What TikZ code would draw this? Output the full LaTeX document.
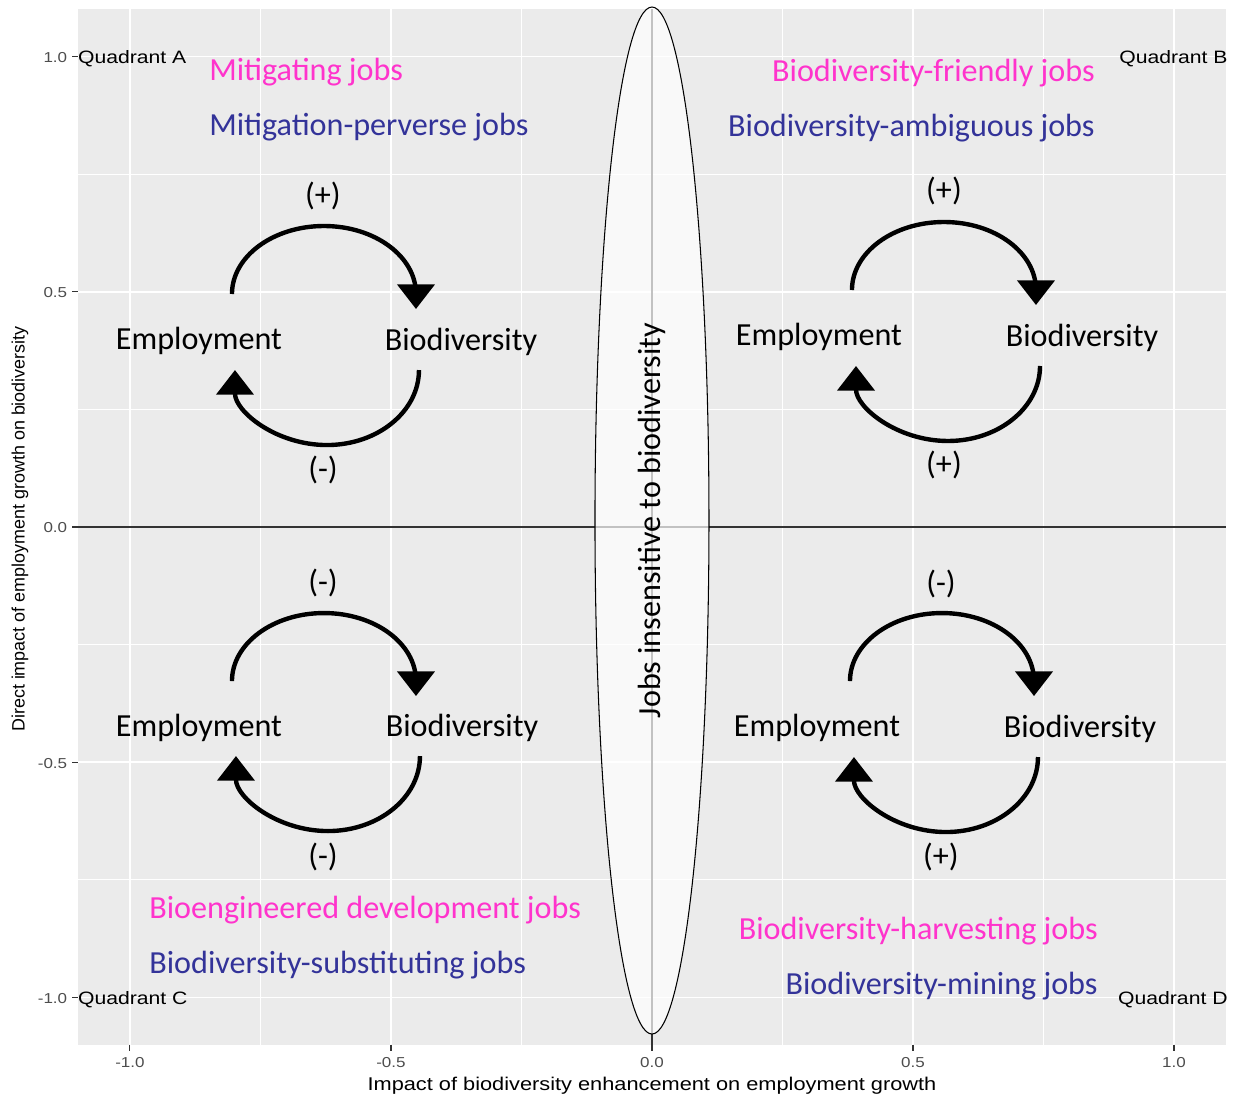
\documentclass[tikz,border=0pt]{standalone}
\usepackage{fontspec}
\setmainfont{Carlito}
\newfontfamily\plotfont{Liberation Sans}
\usetikzlibrary{arrows.meta,shapes.geometric,positioning}
\definecolor{panelgrey}{HTML}{EBEBEB}
\definecolor{tickgrey}{HTML}{4D4D4D}
\definecolor{jobpink}{HTML}{FF33CC}
\definecolor{jobblue}{HTML}{333399}
\begin{document}
\begin{tikzpicture}[x=10.44cm,y=9.41cm,
  lab/.style={font=\fontsize{18.3}{20}\selectfont,inner sep=0pt,yshift=-0.04cm},
  pinkjob/.style={lab,text=jobpink},
  bluejob/.style={lab,text=jobblue},
  quadlab/.style={font=\plotfont\fontsize{10.2}{12}\selectfont,inner sep=0pt,xscale=1.18,yshift=-0.04cm},
  ticklab/.style={font=\plotfont\fontsize{8.2}{10}\selectfont,text=tickgrey,inner sep=0pt,xscale=1.18},
  cyc/.style={line width=2.5pt,-{Triangle[length=14pt,width=21pt]}},
  major/.style={white,line width=1pt},
  minor/.style={white,line width=0.5pt}]
\useasboundingbox (-1.249,-1.203) rectangle (1.1207,1.1201);
% panel and grid lines
\fill[panelgrey] (-1.1,-1.1) rectangle (1.1,1.1);
\foreach \v in {-0.75,-0.25,0.25,0.75} {
  \draw[minor] (\v,-1.1) -- (\v,1.1);
  \draw[minor] (-1.1,\v) -- (1.1,\v);
}
\foreach \v in {-1,-0.5,0,0.5,1} {
  \draw[major] (\v,-1.1) -- (\v,1.1);
  \draw[major] (-1.1,\v) -- (1.1,\v);
}
% the ticks and their labels
\foreach \v/\t [count=\i] in {-1/-1.0,-0.5/-0.5,0/0.0,0.5/0.5,1/1.0} {
  \draw[black!80,line width=0.6pt] (\v,-1.1) -- ++(0cm,-0.12cm) node[ticklab,below=0.12cm] (xt\i) {\t};
  \draw[black!80,line width=0.6pt] (-1.1,\v) -- ++(-0.12cm,0cm) node[ticklab,left=0.08cm,yshift=-0.02cm] (yt\i) {\t};
}
\node[quadlab,font=\plotfont\fontsize{10.5}{12}\selectfont] (xtitle) at (0,-1.183) {Impact of biodiversity enhancement on employment growth};
\node[quadlab,xscale=1/1.18,rotate=90,yshift=0.04cm] (ytitle) at (-1.2069,0) {Direct impact of employment growth on biodiversity};
% zero lines
\draw[black!80,line width=0.6pt] (-1.1,0) -- (1.1,0);
\draw[black!80,line width=0.6pt] (0,-1.1) -- (0,1.1);
% jobs insensitive to biodiversity
\node[ellipse,draw=black,line width=0.6pt,fill=white,fill opacity=0.7,text opacity=1,
  rotate=90,minimum width=20.54cm,minimum height=2.28cm,lab,yshift=0.04cm] (insens) at (0,0.0138) {Jobs insensitive to biodiversity};
% quadrant names
\node[quadlab,anchor=west] (qA) at (-1.1,1) {Quadrant A};
\node[quadlab,anchor=east] (qB) at (1.1034,1) {Quadrant B};
\node[quadlab,anchor=west] (qC) at (-1.1,-1) {Quadrant C};
\node[quadlab,anchor=east] (qD) at (1.1034,-1) {Quadrant D};
% quadrant A
\node[pinkjob,anchor=west] (mitig) at (-0.8487,0.9713) {Mitigating jobs};
\node[bluejob,anchor=west] (perverse) at (-0.8487,0.8544) {Mitigation-perverse jobs};
\node[lab] (signA1) at (-0.6303,0.7078) {(+)};
\node[lab] (empA) at (-0.8678,0.3996) {Employment};
\node[lab] (bioA) at (-0.3659,0.3974) {Biodiversity};
\node[lab] (signA2) at (-0.6303,0.1254) {(-)};
% quadrant B
\node[pinkjob,anchor=east] (friendly) at (0.8487,0.9692) {Biodiversity-friendly jobs};
\node[bluejob,anchor=east] (ambig) at (0.8487,0.8523) {Biodiversity-ambiguous jobs};
\node[lab] (signB1) at (0.5594,0.7184) {(+)};
\node[lab] (empB) at (0.3199,0.4081) {Employment};
\node[lab] (bioB) at (0.8238,0.4060) {Biodiversity};
\node[lab] (signB2) at (0.5594,0.1360) {(+)};
% quadrant C
\node[lab] (signC1) at (-0.6303,-0.1148) {(-)};
\node[lab] (empC) at (-0.8678,-0.4230) {Employment};
\node[lab] (bioC) at (-0.3640,-0.4230) {Biodiversity};
\node[lab] (signC2) at (-0.6303,-0.6971) {(-)};
\node[pinkjob,anchor=west] (bioeng) at (-0.9636,-0.8098) {Bioengineered development jobs};
\node[bluejob,anchor=west] (substit) at (-0.9636,-0.9267) {Biodiversity-substituting jobs};
% quadrant D
\node[lab] (signD1) at (0.5536,-0.1169) {(-)};
\node[lab] (empD) at (0.3161,-0.4230) {Employment};
\node[lab] (bioD) at (0.8199,-0.4251) {Biodiversity};
\node[lab] (signD2) at (0.5536,-0.6971) {(+)};
\node[pinkjob,anchor=east] (harvest) at (0.8544,-0.8544) {Biodiversity-harvesting jobs};
\node[bluejob,anchor=east] (mining) at (0.8544,-0.9713) {Biodiversity-mining jobs};
% feedback loops
\foreach \q in {A,B,C,D} {
  \draw[cyc] ([shift={(0.66cm,0.94cm)}]emp\q.center) arc[start angle=180,end angle=0,x radius=1.84cm,y radius=1.36cm] -- ++(0cm,-0.3cm);
  \draw[cyc] ([shift={(-0.84cm,-0.56cm)}]bio\q.center) arc[start angle=0,end angle=-180,x radius=1.84cm,y radius=1.5cm];
}
\end{tikzpicture}
\end{document}
